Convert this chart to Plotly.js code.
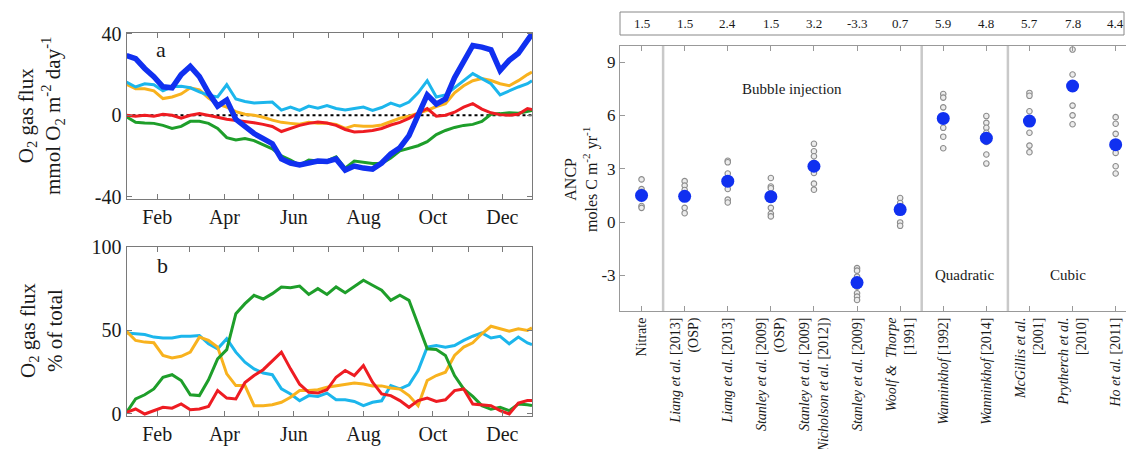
<!DOCTYPE html>
<html>
<head>
<meta charset="utf-8">
<script src="https://cdn.plot.ly/plotly-3.0.1.min.js"></script>
<style>html,body{margin:0;padding:0;background:#fff}#chart{width:1126px;height:449px}</style>
</head>
<body>
<div id="chart"></div>
<script>
// ---------- Panel a & b: day of year ----------
const days = [5,13,21,29,37,45,53,61,69,77,85,93,101,109,117,125,133,141,149,157,165,173,181,189,197,205,213,221,229,237,245,253,261,269,277,285,293,301,309,317,325,333,341,349,357,361];
const monthTickDays = [32,60,91,121,152,182,213,244,274,305,335];
const monthTickText = ["Feb","","Apr","","Jun","","Aug","","Oct","","Dec"];
const fluxTicks = [-40,0,40];
const fluxTickText = ["-40","0","40"];
const pctTicks = [0,50,100];
const ancpTicks = [-3,0,3,6,9];
const ancpTickText = ["-3","0","3","6","9"];

// Panel a: O2 gas flux (mmol O2 m-2 day-1)
const fluxTotal = [29.4,27.8,23,19,14,13.5,20,24,19,11,4.5,7.5,-2,-5.5,-9,-11.5,-14,-21.5,-23.5,-24.5,-23.8,-22.5,-22.8,-21.5,-27,-25,-26,-26.5,-23.5,-19,-16,-10,0,10,5.5,8,18.5,26,34.3,33.5,32.2,22,27,30.5,37,40];
const fluxCyan = [16.3,13.9,15.5,15,12,14,14.2,13.5,11.5,9.8,9,15,8,6.8,6,6.3,6.5,2.5,4,2.4,4.5,3.5,4.8,3.3,2.6,3.3,4,2.4,3.8,6,4.5,6.5,11,17,9,10,13.5,17,20.5,18,15.5,10,12,13.9,15.5,17];
const fluxOrange = [15.2,13,13,12,8.2,9,10.5,13.5,12.5,8.5,5.5,4,1.8,0.5,0,-1,-2.4,-3.5,-4,-4.4,-3.4,-4,-4,-4.5,-6.5,-5,-5.4,-5.4,-4.8,-3,-1.5,-0.5,0.8,2.4,4.3,5.7,11,14.5,17,18,17.1,15.5,14.5,17,20,21.2];
const fluxRed = [0,-0.5,0,-0.5,0.5,0,-1.5,0,0.8,0,-1,-2,-2.5,-3,-3.7,-4.5,-5.5,-8,-6.5,-5,-4,-3.3,-3.8,-5,-7,-8.2,-8,-7.5,-6.5,-4.8,-3.5,-1.5,1,3.3,-0.5,0,1.5,4,5.7,3,1.2,0.3,0,0.5,3.3,2.8];
const fluxGreen = [-0.8,-3.5,-3.8,-4,-5,-6.5,-5.5,-3,-3,-4,-6.5,-11,-12.2,-11.5,-12.5,-14.5,-16.5,-20,-22,-24.5,-22,-22.5,-22.5,-20.5,-26,-22.5,-23,-23.7,-23.7,-21,-17.5,-16.3,-15,-13,-9.5,-7.5,-6,-5,-4.5,-3,0.5,0.8,1.2,1,1.8,2.4];

// Panel b: % of total
const pctGreen = [1,9,11.5,15,22,23.5,20,11.5,11,20.5,33,38.5,60,66,71,68.8,72,76,75.5,76.5,71.5,75,71.5,76,72.5,76,80,77,74,68,71,68,54,39,38.6,35,23,15,10.5,5,2.8,4,2,6,5.5,5];
const pctCyan = [48.5,48,47.5,46,45.5,45.5,46.5,46.5,47,42,39,45,37,31,27,24.5,23.5,15,12,7.9,11,10.5,12.5,8.5,8.5,7.5,5,7,7.9,17,15,17.5,26,40,41,40,41,44,46.5,48.5,45.5,46.5,42,46,42.5,41.6];
const pctOrange = [49.5,44,43,42.6,35,33.5,34.5,37,46,44,40,24,17,17,5,5,5.5,7,10,14,14,14.5,16,16.8,17.5,18.5,18,16.8,16.8,15.5,14.9,11,5,20,23,25,35,40,42.6,48,52.5,51,49.5,51,50,51.5];
const pctRed = [1,3,0,2,4,3.5,6,2.5,3,4.5,14,9.5,9,18.8,23,26.5,32,37,27,17.8,13,12.5,14.5,22,26,23,29,19,12,11,8,4,8,9.5,7.5,8.5,14,15,6,5.5,5,2,0,6.5,8,8];

// ---------- Right panel: ANCP ----------
const catLabels = [
  "Nitrate",
  "<i>Liang et al.</i> [2013]<br>(OSP)",
  "<i>Liang et al.</i> [2013]",
  "<i>Stanley et al.</i> [2009]<br>(OSP)",
  "<i>Stanley et al.</i> [2009]<br>(<i>Nicholson et al.</i> [2012])",
  "<i>Stanley et al.</i> [2009]",
  "<i>Woolf &amp;  Thorpe</i><br>[1991]",
  "<i>Wanninkhof</i> [1992]",
  "<i>Wanninkhof</i> [2014]",
  "<i>McGillis et al.</i><br>[2001]",
  "<i>Prytherch et al.</i><br>[2010]",
  "<i>Ho et al.</i> [2011]"
];
const tableVals = ["1.5","1.5","2.4","1.5","3.2","-3.3","0.7","5.9","4.8","5.7","7.8","4.4"];
const meanANCP = [1.5,1.45,2.3,1.43,3.14,-3.4,0.7,5.83,4.72,5.68,7.65,4.35];
const ensembleANCP = [
  [2.4,1.85,1.7,0.9,0.8],
  [2.3,2.05,1.8,0.8,0.5],
  [3.45,3.36,2.73,1.86,1.26,1.1],
  [2.48,2.0,1.9,0.8,0.47,0.32],
  [4.4,3.98,3.7,3.33,2.76,2.16,1.82],
  [-2.59,-2.73,-3.07,-3.63,-4.0,-4.19,-4.38],
  [1.35,1.07,0.88,-0.02,-0.21],
  [7.2,7.0,6.45,5.3,4.8,4.15],
  [5.96,5.58,5.3,5.02,4.51,3.8,3.29],
  [7.26,7.1,6.23,5.02,4.3,3.93],
  [9.7,8.3,6.55,6.0,5.5],
  [5.9,5.53,4.96,3.89,3.14,2.73]
];
const groupSeparators = [1.5,7.5,9.5];
const groupLabels = [{t:"Bubble injection",x:4.5,y:7.46},{t:"Quadratic",x:8.5,y:-3},{t:"Cubic",x:10.9,y:-3}];

// ---------- colours ----------
const cBlue = "#1030f0", cCyan = "#1cb6ec", cOrange = "#f8b21e", cRed = "#ee1c22", cGreen = "#1e9e2a";

const catIdx = catLabels.map((_, i) => i + 1);
const ensX = [], ensY = [];
ensembleANCP.forEach((arr, i) => arr.forEach(v => { ensX.push(i + 1); ensY.push(v); }));

function line(x, y, color, w, xa, ya) {
  return {type:"scatter", mode:"lines", x:x, y:y, xaxis:xa, yaxis:ya,
          line:{color:color, width:w, shape:"linear"}, hoverinfo:"skip"};
}

const traces = [
  line(days, fluxGreen, cGreen, 3, "x", "y"),
  line(days, fluxOrange, cOrange, 3, "x", "y"),
  line(days, fluxCyan, cCyan, 3, "x", "y"),
  line(days, fluxRed, cRed, 3, "x", "y"),
  line(days, fluxTotal, cBlue, 5.5, "x", "y"),
  line(days, pctCyan, cCyan, 3, "x2", "y2"),
  line(days, pctOrange, cOrange, 3, "x2", "y2"),
  line(days, pctGreen, cGreen, 3, "x2", "y2"),
  line(days, pctRed, cRed, 3, "x2", "y2"),
  {type:"scatter", mode:"markers", x:ensX, y:ensY, xaxis:"x3", yaxis:"y3",
   marker:{size:5.5, color:"#ececec", line:{color:"#8c8c8c", width:1.1}}, hoverinfo:"skip"},
  {type:"scatter", mode:"markers", x:catIdx, y:meanANCP, xaxis:"x3", yaxis:"y3",
   marker:{size:13, color:cBlue}, hoverinfo:"skip"}
];

const W = 1126, H = 449;
const px = v => v / W, py = v => 1 - v / H;
const axStyle = {showgrid:false, zeroline:false, showline:true, linecolor:"#7a7a7a", linewidth:1,
                 mirror:"ticks", ticks:"inside", ticklen:5, tickcolor:"#7a7a7a", automargin:false};
const serif = "Liberation Serif, Times New Roman, serif";
const ann = o => Object.assign({showarrow:false, xanchor:"center", yanchor:"middle"}, o);

const layout = {
  width:W, height:H, margin:{l:0,r:0,t:0,b:0}, showlegend:false,
  paper_bgcolor:"#fff", plot_bgcolor:"#fff",
  font:{family:serif, color:"#1a1a1a"},
  xaxis:Object.assign({}, axStyle, {domain:[px(126.5), px(532)], range:[5,361], anchor:"y",
        tickvals:monthTickDays, ticktext:monthTickText, tickfont:{size:20}}),
  yaxis:Object.assign({}, axStyle, {domain:[py(199), py(32.5)], range:[-41.2,40.7], anchor:"x",
        tickvals:fluxTicks, ticktext:fluxTickText, tickfont:{size:20}}),
  xaxis2:Object.assign({}, axStyle, {domain:[px(126.5), px(532)], range:[5,361], anchor:"y2",
        tickvals:monthTickDays, ticktext:monthTickText, tickfont:{size:20}}),
  yaxis2:Object.assign({}, axStyle, {domain:[py(416), py(246.5)], range:[-1.2,100.2], anchor:"x2",
        tickvals:pctTicks, tickfont:{size:20}}),
  xaxis3:Object.assign({}, axStyle, {domain:[px(620), 1], range:[0.5,12.24], anchor:"y3",
        linecolor:"#999", tickcolor:"#999",
        tickvals:catIdx, ticktext:catLabels, tickangle:-90, tickfont:{size:14}}),
  yaxis3:Object.assign({}, axStyle, {domain:[py(311), py(46)], range:[-5,9.9], anchor:"x3",
        mirror:false, linecolor:"#999", tickcolor:"#999",
        tickvals:ancpTicks, ticktext:ancpTickText, tickfont:{size:17}}),
  shapes:[
    {type:"line", xref:"x domain", yref:"y", x0:0, x1:1, y0:0, y1:0, layer:"below",
     line:{color:"#000", width:2, dash:"dot"}},
    {type:"rect", xref:"paper", yref:"paper", x0:px(620), x1:px(1124), y0:py(35), y1:py(12),
     line:{color:"#888", width:1}}
  ].concat(groupSeparators.map(s => ({type:"line", xref:"x3", yref:"y3 domain", x0:s, x1:s, y0:0, y1:1,
     layer:"below", line:{color:"#c9c9c9", width:2.5}}))),
  annotations:[
    ann({xref:"paper", yref:"paper", x:px(41), y:py(116), textangle:-90,
     text:"O<sub>2</sub> gas flux<br>mmol O<sub>2</sub> m<sup>-2</sup> day<sup>-1</sup>", font:{size:21}}),
    ann({xref:"paper", yref:"paper", x:px(41), y:py(331), textangle:-90,
     text:"O<sub>2</sub> gas flux<br>% of total", font:{size:21}}),
    ann({xref:"paper", yref:"paper", x:px(161), y:py(49), text:"a", font:{size:22}}),
    ann({xref:"paper", yref:"paper", x:px(162), y:py(265), text:"b", font:{size:22}}),
    ann({xref:"paper", yref:"paper", x:px(581), y:py(180), textangle:-90,
     text:"ANCP<br>moles C m<sup>-2</sup> yr<sup>-1</sup>", font:{size:16}})
  ].concat(groupLabels.map(g => ann({xref:"x3", yref:"y3", x:g.x, y:g.y, text:g.t, font:{size:15}})))
   .concat(tableVals.map((t, i) => ann({xref:"x3", yref:"paper", x:i + 1, y:py(23.5), text:t, font:{size:13}})))
};

Plotly.newPlot("chart", traces, layout, {staticPlot:true, displayModeBar:false});
</script>
</body>
</html>
